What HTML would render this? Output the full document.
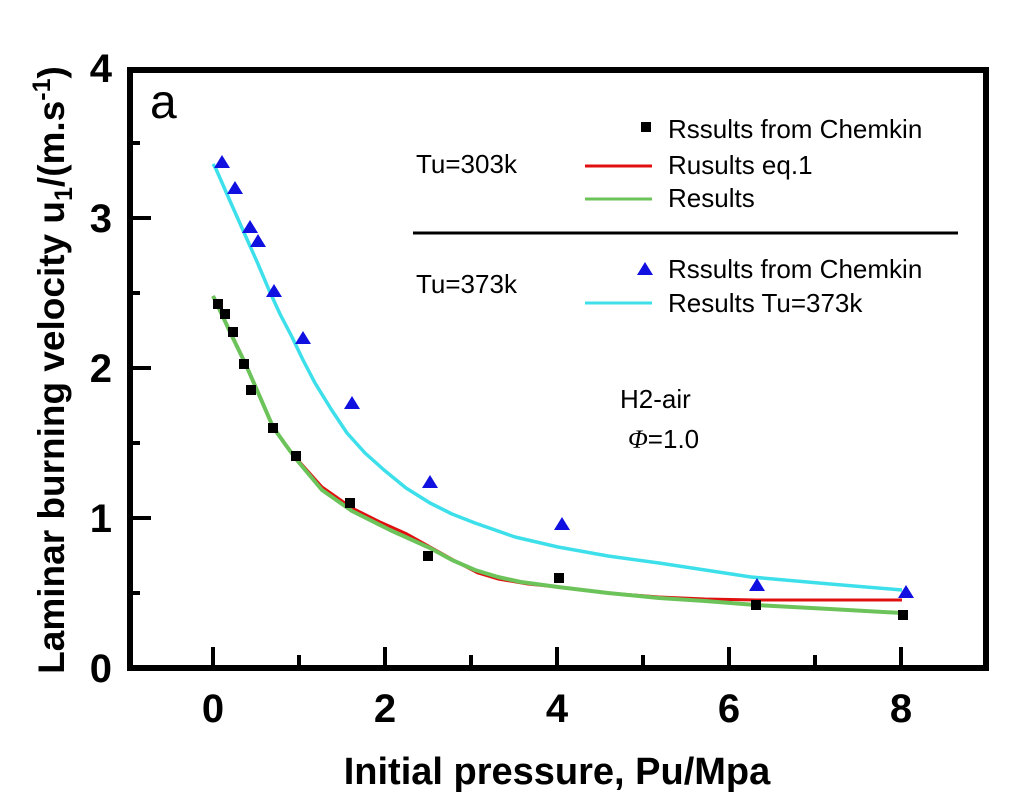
<!DOCTYPE html>
<html><head><meta charset="utf-8"><style>
body{margin:0;background:#fff}
svg{display:block;font-family:"Liberation Sans",sans-serif}
</style></head><body>
<svg width="1034" height="804" viewBox="0 0 1034 804">
<rect width="1034" height="804" fill="#fff"/>
<polyline points="213,164 216,169 230,201 246,237 258,264 269,290 280,314 292,337 303,360 315,383 331,409 347,433 365,453 384,470 406,488 430,503 452,514 475,523 515,537 558,547 608,556 659,563 705,570 751,577 830,584 902,590" fill="none" stroke="#3de0ea" stroke-width="3.5" stroke-linejoin="round"/>
<polyline points="213,296 216,302 231,334 246,365 260,397 273,427 285,444 296,458 322,487 352,508 380,522 407,534 432,548 457,562 478,573 498,579 528,584 558,587 608,593 659,597 705,599 756,600 830,600 902,600" fill="none" stroke="#e01010" stroke-width="3" stroke-linejoin="round"/>
<polyline points="213,296 216,302 231,334 246,365 260,397 273,427 285,444 296,459 322,490 352,511 390,530 430,548 452,560 475,570 498,577 521,582 558,587 608,593 659,598 705,601 756,605 830,609 902,613" fill="none" stroke="#6cc35a" stroke-width="4" stroke-linejoin="round"/>
<g fill="#000">
<rect x="213" y="299" width="10" height="10"/><rect x="220" y="309" width="10" height="10"/><rect x="228" y="327" width="10" height="10"/><rect x="239" y="359" width="10" height="10"/><rect x="246" y="385" width="10" height="10"/><rect x="268" y="423" width="10" height="10"/><rect x="291" y="451" width="10" height="10"/><rect x="345" y="498" width="10" height="10"/><rect x="423" y="551" width="10" height="10"/><rect x="554" y="573" width="10" height="10"/><rect x="751" y="600" width="10" height="10"/><rect x="898" y="610" width="10" height="10"/>
</g>
<g fill="#1010e0">
<path d="M222,155l8,13h-16z M235,181l8,13h-16z M250,220l8,13h-16z M258,234l8,13h-16z M274,284l8,13h-16z M303,331l8,13h-16z M352,396l8,13h-16z M430,475l8,13h-16z M562,517l8,13h-16z M757,578l8,13h-16z M906,585l8,13h-16z"/>
</g>
<rect x="130" y="70" width="856" height="598" fill="none" stroke="#000" stroke-width="6"/>
<g stroke="#000" stroke-width="4">
<line x1="213" y1="668" x2="213" y2="647"/><line x1="299" y1="668" x2="299" y2="655"/><line x1="385" y1="668" x2="385" y2="647"/><line x1="471" y1="668" x2="471" y2="655"/><line x1="557" y1="668" x2="557" y2="647"/><line x1="643" y1="668" x2="643" y2="655"/><line x1="729" y1="668" x2="729" y2="647"/><line x1="815" y1="668" x2="815" y2="655"/><line x1="901" y1="668" x2="901" y2="647"/>
<line x1="130" y1="518" x2="151" y2="518"/><line x1="130" y1="368" x2="151" y2="368"/><line x1="130" y1="218" x2="151" y2="218"/>
<line x1="130" y1="593" x2="140" y2="593"/><line x1="130" y1="443" x2="140" y2="443"/><line x1="130" y1="293" x2="140" y2="293"/><line x1="130" y1="143" x2="140" y2="143"/>
</g>
<g font-weight="bold" font-size="40" text-anchor="middle" fill="#000">
<text x="213" y="722">0</text><text x="385" y="722">2</text><text x="557" y="722">4</text><text x="729" y="722">6</text><text x="901" y="722">8</text>
<text x="112" y="682" text-anchor="end">0</text><text x="112" y="532" text-anchor="end">1</text><text x="112" y="382" text-anchor="end">2</text><text x="112" y="232" text-anchor="end">3</text><text x="112" y="82" text-anchor="end">4</text>
<text x="557" y="784" font-size="38">Initial pressure, Pu/Mpa</text>
<text transform="translate(64,370) rotate(-90)" font-size="37">Laminar burning velocity u<tspan font-size="25" dy="8">1</tspan><tspan dy="-8">/(m.s</tspan><tspan font-size="25" dy="-14">-1</tspan><tspan dy="14">)</tspan></text>
</g>
<text x="150" y="118" font-size="48" fill="#000">a</text>
<g font-size="26" fill="#000">
<rect x="641" y="122" width="10" height="10"/>
<text x="668" y="138">Rssults from Chemkin</text>
<line x1="585" y1="166" x2="652" y2="166" stroke="#e01010" stroke-width="3"/>
<text x="668" y="174">Rusults eq.1</text>
<line x1="585" y1="199" x2="652" y2="199" stroke="#6cc35a" stroke-width="3"/>
<text x="668" y="207">Results</text>
<text x="416" y="173">Tu=303k</text>
<line x1="413" y1="233" x2="958" y2="233" stroke="#000" stroke-width="3"/>
<path d="M645,262l8,13h-16z" fill="#1010e0"/>
<text x="668" y="278">Rssults from Chemkin</text>
<line x1="585" y1="303" x2="652" y2="303" stroke="#3de0ea" stroke-width="3"/>
<text x="668" y="312">Results Tu=373k</text>
<text x="416" y="293">Tu=373k</text>
<text x="620" y="408">H2-air</text>
<text x="628" y="448"><tspan font-style="italic" font-family="Liberation Serif">Φ</tspan>=1.0</text>
</g>
</svg>
</body></html>
